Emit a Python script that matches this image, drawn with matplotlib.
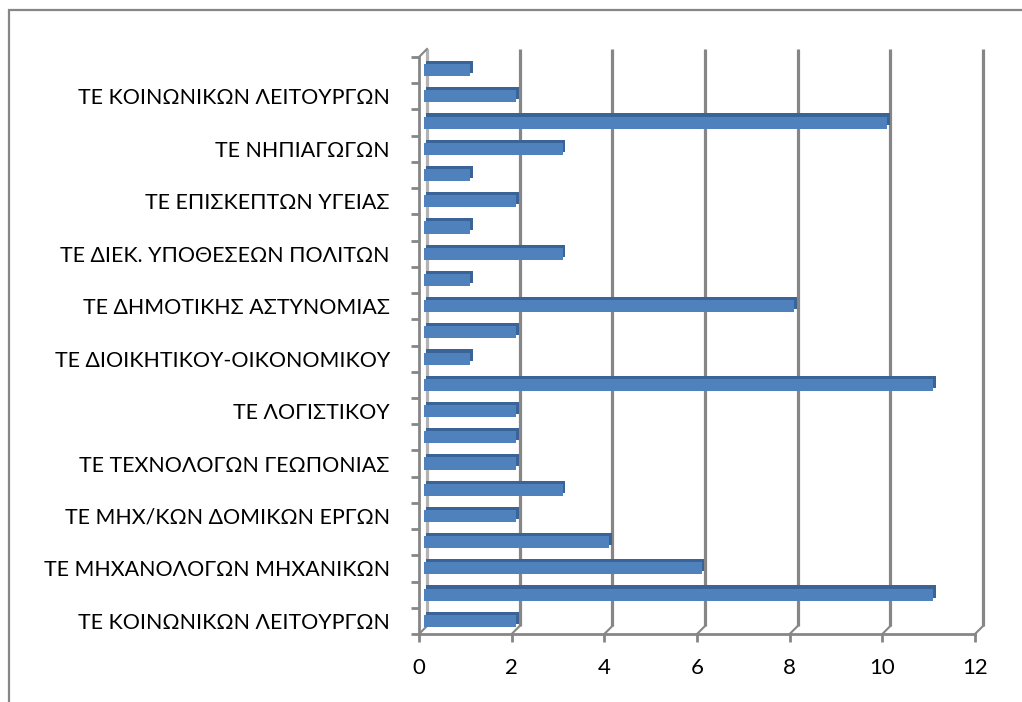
import numpy as np
import matplotlib
matplotlib.use('Agg')
import matplotlib.pyplot as plt

# categories bottom-up; Excel only shows every other label
labels = ['ΤΕ ΚΟΙΝΩΝΙΚΩΝ ΛΕΙΤΟΥΡΓΩΝ', '', 'ΤΕ ΜΗΧΑΝΟΛΟΓΩΝ ΜΗΧΑΝΙΚΩΝ', '',
          'ΤΕ ΜΗΧ/ΚΩΝ ΔΟΜΙΚΩΝ ΕΡΓΩΝ', '', 'ΤΕ ΤΕΧΝΟΛΟΓΩΝ ΓΕΩΠΟΝΙΑΣ', '',
          'ΤΕ ΛΟΓΙΣΤΙΚΟΥ', '', 'ΤΕ ΔΙΟΙΚΗΤΙΚΟΥ-ΟΙΚΟΝΟΜΙΚΟΥ', '',
          'ΤΕ ΔΗΜΟΤΙΚΗΣ ΑΣΤΥΝΟΜΙΑΣ', '', 'ΤΕ ΔΙΕΚ. ΥΠΟΘΕΣΕΩΝ ΠΟΛΙΤΩΝ', '',
          'ΤΕ ΕΠΙΣΚΕΠΤΩΝ ΥΓΕΙΑΣ', '', 'ΤΕ ΝΗΠΙΑΓΩΓΩΝ', '',
          'ΤΕ ΚΟΙΝΩΝΙΚΩΝ ΛΕΙΤΟΥΡΓΩΝ', '']
values = [2, 11, 6, 4, 2, 3, 2, 2, 2, 11, 1, 2, 8, 1, 3, 1, 2, 1, 3, 10, 2, 1]
xticks = [0, 2, 4, 6, 8, 10, 12]

plt.rcParams['font.family'] = ['Lato', 'DejaVu Sans']

fig = plt.figure(figsize=(10.22, 7.02), dpi=100)
ax = fig.add_axes([419 / 1022, (702 - 634) / 702, 556 / 1022, (634 - 57) / 702])

n = len(values)
y = np.arange(n)
grey = '#868686'
dx, dy = 0.173, 0.305  # 3d depth offset in data units

# back wall gridlines
for t in xticks:
    c = '#b3b3b3' if t == 0 else grey
    ax.plot([t + dx, t + dx], [-0.5 + dy, n - 0.5 + dy], color=c, lw=2.3,
            clip_on=False, zorder=1, solid_capstyle='butt')
    ax.plot([t, t + dx], [-0.5, -0.5 + dy], color=grey, lw=1.5, clip_on=False, zorder=1)
ax.plot([0, dx], [n - 0.5, n - 0.5 + dy], color=grey, lw=1.5, clip_on=False, zorder=1)

# bars with a fake 3d top/side
h = 0.46
ax.barh(y + 0.12, values, left=0.16, height=h, color='#3a6497', zorder=2)
ax.barh(y, values, left=0.1, height=h, color='#4f81bd', zorder=3)

ax.set_xlim(0, 12)
ax.set_ylim(-0.5, n - 0.5)

for s in ['top', 'right']:
    ax.spines[s].set_visible(False)
for s in ['left', 'bottom']:
    ax.spines[s].set_color(grey)
    ax.spines[s].set_linewidth(2)

ax.set_xticks(xticks)
ax.set_xticklabels([str(t) for t in xticks], fontsize=16)
ax.tick_params(axis='x', length=6, width=2, color=grey, pad=11)

ax.set_yticks(y)
ax.set_yticklabels(labels, fontsize=15.4)
ax.set_yticks(np.arange(-0.5, n, 1.0), minor=True)
ax.tick_params(axis='y', which='major', length=0, pad=21)
ax.tick_params(axis='y', which='minor', length=6, width=2, color=grey)

# chart area border
fig.patches.append(plt.Rectangle((9 / 1022, -0.01), 1.1, (702 - 10) / 702 + 0.01,
                                 transform=fig.transFigure, fill=False,
                                 edgecolor=grey, lw=1.6))

fig.savefig('out.png', dpi=100)
